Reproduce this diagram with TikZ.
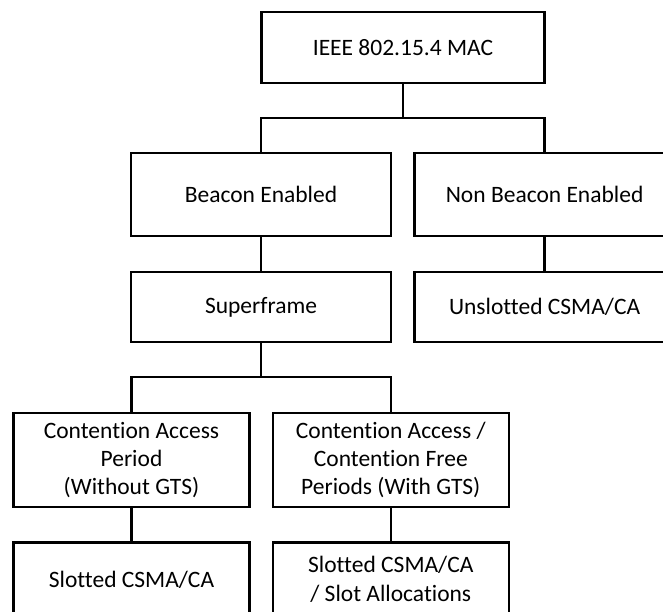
\documentclass[tikz,border=0pt]{standalone}
\usepackage{fontspec}
\setmainfont{Carlito}[Ligatures={NoCommon,NoContextual}]
\begin{document}
\begin{tikzpicture}[x=1pt,y=-1pt,
  box/.style={draw=black, line width=2.3pt, fill=white, inner sep=2pt,
    align=center, font=\fontsize{23.5}{28.4}\selectfont},
  wide/.style={box, minimum width=260pt},
  narrow/.style={box, minimum width=236pt},
  link/.style={draw=black, line width=2.3pt}]
  % page frame; boxes running past it are cut off
  \path[use as bounding box, clip] (0,0) rectangle (663,611);
  \fill[white] (0,0) rectangle (663,611);

  % first level
  \node[box, minimum width=283pt, minimum height=71pt] (mac) at (403,47.2) {IEEE 802.15.4 MAC};

  % beacon modes
  \node[wide, minimum height=83pt] (be)  at (261,194.5)   {Beacon Enabled};
  \node[wide, minimum height=83pt] (nbe) at (544.6,194.5) {Non Beacon Enabled};

  \node[wide, minimum height=70.5pt] (sf) at (261,307)   {Superframe};
  \node[wide, minimum height=70.5pt] (us) at (544.6,307) {Unslotted CSMA/CA};

  % superframe periods
  \node[narrow, minimum height=94pt] (cap) at (131.5,460) {Contention Access\\Period\\(Without GTS)};
  \node[narrow, minimum height=94pt] (cfp) at (390.8,460) {Contention Access /\\Contention Free\\Periods (With GTS)};

  \node[narrow, minimum height=74pt] (s1) at (131.5,579.5) {Slotted CSMA/CA};
  \node[narrow, minimum height=74pt] (s2) at (390.8,579.5) {Slotted CSMA/CA\\/ Slot Allocations};

  % junction points of the tree
  \coordinate (j1) at (403,117.7);
  \coordinate (j2) at (261,377.2);

  \draw[link] (mac.south) -- (j1);
  \draw[link] (be.north) |- (j1) -| (nbe.north);
  \draw[link] (be.south) -- (sf.north);
  \draw[link] (nbe.south) -- (us.north);
  \draw[link] (sf.south) -- (j2);
  \draw[link] (cap.north) |- (j2) -| (cfp.north);
  \draw[link] (cap.south) -- (s1.north);
  \draw[link] (cfp.south) -- (s2.north);
\end{tikzpicture}
\end{document}
